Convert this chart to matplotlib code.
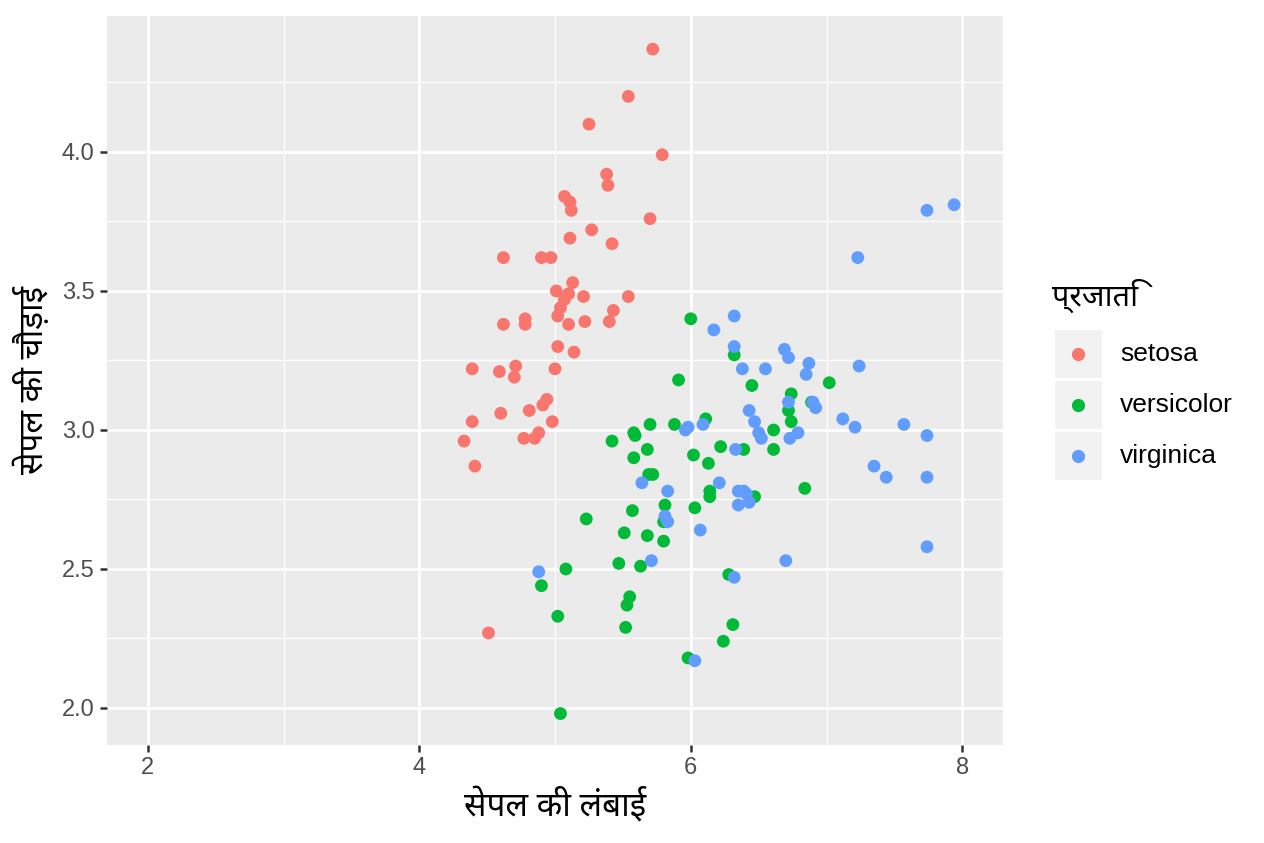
import matplotlib
matplotlib.use('Agg')
import matplotlib.pyplot as plt
from matplotlib.patches import Rectangle
from matplotlib.lines import Line2D
import numpy as np

# iris, jitter के साथ जैसा चित्र में दिखता है
setosa_x = [5.72, 5.54, 5.25, 5.79, 5.38, 5.39, 5.07, 5.11, 5.12, 5.70,
            5.27, 5.11, 5.42, 4.62, 4.90, 4.97, 5.13, 5.01, 5.07, 5.10,
            5.21, 5.54, 5.04, 5.02, 5.10, 5.22, 5.43, 5.40, 4.62, 4.78,
            4.78, 5.02, 5.14, 4.39, 4.59, 4.71, 4.70, 5.00, 4.94, 4.91,
            4.60, 4.81, 4.98, 4.39, 4.77, 4.85, 4.88, 4.33, 4.41, 4.51]
setosa_y = [4.37, 4.20, 4.10, 3.99, 3.92, 3.88, 3.84, 3.82, 3.79, 3.76,
            3.72, 3.69, 3.67, 3.62, 3.62, 3.62, 3.53, 3.50, 3.47, 3.49,
            3.48, 3.48, 3.44, 3.41, 3.38, 3.39, 3.43, 3.39, 3.38, 3.40,
            3.38, 3.30, 3.28, 3.22, 3.21, 3.23, 3.19, 3.22, 3.11, 3.09,
            3.06, 3.07, 3.03, 3.03, 2.97, 2.97, 2.99, 2.96, 2.87, 2.27]

versicolor_x = [6.00, 5.91, 5.42, 5.58, 5.59, 5.70, 5.88, 5.68, 5.58, 6.02,
                5.69, 5.72, 5.81, 6.03, 5.57, 5.23, 5.80, 5.51, 5.68, 5.80,
                5.47, 5.63, 5.08, 4.90, 5.55, 5.53, 5.02, 5.52, 5.98, 5.04,
                6.32, 6.45, 7.02, 6.74, 6.72, 6.74, 6.11, 6.61, 6.22, 6.39,
                6.61, 6.13, 6.84, 6.14, 6.14, 6.47, 6.28, 6.31, 6.24, 6.89]
versicolor_y = [3.40, 3.18, 2.96, 2.99, 2.98, 3.02, 3.02, 2.93, 2.90, 2.91,
                2.84, 2.84, 2.73, 2.72, 2.71, 2.68, 2.67, 2.63, 2.62, 2.60,
                2.52, 2.51, 2.50, 2.44, 2.40, 2.37, 2.33, 2.29, 2.18, 1.98,
                3.27, 3.16, 3.17, 3.13, 3.07, 3.03, 3.04, 3.00, 2.94, 2.93,
                2.93, 2.88, 2.79, 2.78, 2.76, 2.76, 2.48, 2.30, 2.24, 3.10]

virginica_x = [5.96, 5.98, 5.64, 5.83, 5.83, 6.07, 5.71, 4.88, 6.03, 7.94,
               7.74, 7.23, 6.32, 6.17, 6.32, 6.38, 6.55, 6.69, 6.72, 6.87,
               6.85, 7.24, 6.72, 6.90, 6.92, 6.43, 6.47, 6.09, 7.12, 7.21,
               7.57, 6.50, 6.52, 6.73, 6.79, 7.74, 6.33, 7.35, 7.44, 7.74,
               6.21, 6.35, 6.39, 6.35, 6.43, 6.70, 7.74, 6.32, 5.81, 6.41]
virginica_y = [3.00, 3.01, 2.81, 2.78, 2.67, 2.64, 2.53, 2.49, 2.17, 3.81,
               3.79, 3.62, 3.41, 3.36, 3.30, 3.22, 3.22, 3.29, 3.26, 3.24,
               3.20, 3.23, 3.10, 3.10, 3.08, 3.07, 3.03, 3.02, 3.04, 3.01,
               3.02, 2.99, 2.97, 2.97, 2.99, 2.98, 2.93, 2.87, 2.83, 2.83,
               2.81, 2.78, 2.78, 2.73, 2.74, 2.53, 2.58, 2.47, 2.69, 2.77]

species = ['setosa', 'versicolor', 'virginica']
colors = ['#F8766D', '#00BA38', '#619CFF']
xs = [setosa_x, versicolor_x, virginica_x]
ys = [setosa_y, versicolor_y, virginica_y]

x_ticks = [2, 4, 6, 8]
y_ticks = [2.0, 2.5, 3.0, 3.5, 4.0]

hindi = ['Noto Sans Devanagari', 'Lohit Devanagari', 'FreeSans', 'Noto Sans', 'DejaVu Sans']
plt.rcParams['font.family'] = ['Liberation Sans', 'DejaVu Sans']

fig = plt.figure(figsize=(12.64, 8.43), dpi=100)
ax = fig.add_axes([0.0847, 0.1163, 0.7088, 0.8647])
ax.set_facecolor('#EBEBEB')

for x, y, c in zip(xs, ys, colors):
    ax.scatter(x, y, s=85, color=c, edgecolors='none', zorder=3)

ax.set_xlim(1.7, 8.3)
ax.set_ylim(1.867, 4.489)
ax.set_xticks(x_ticks)
ax.set_xticklabels([str(t) for t in x_ticks])
ax.set_yticks(y_ticks)
ax.set_yticklabels(['%.1f' % t for t in y_ticks])
ax.set_xticks([3, 5, 7], minor=True)
ax.set_yticks([2.25, 2.75, 3.25, 3.75, 4.25], minor=True)
ax.grid(which='major', color='white', lw=2.0, zorder=0)
ax.grid(which='minor', color='white', lw=1.0, zorder=0)
ax.set_axisbelow(True)
for s in ax.spines.values():
    s.set_visible(False)
ax.tick_params(which='major', length=5, width=1.8, color='#333333',
               labelsize=17, labelcolor='#4D4D4D', pad=4)
ax.tick_params(which='minor', length=0)

ax.set_xlabel('सेपल की लंबाई', fontsize=24, family=hindi, labelpad=6)
ax.set_ylabel('सेपल की चौड़ाई', fontsize=24, family=hindi, labelpad=8)

# legend, ggplot जैसा
fig.text(1052 / 1264, 1 - 296 / 843, 'प्रजाति', fontsize=22, family=hindi,
         va='center', ha='left')
for i, (name, c) in enumerate(zip(species, colors)):
    top = 330 + i * 51
    fig.add_artist(Rectangle((1055 / 1264, 1 - (top + 48) / 843), 47 / 1264, 48 / 843,
                             transform=fig.transFigure, facecolor='#F2F2F2',
                             edgecolor='none'))
    fig.add_artist(Line2D([1078 / 1264], [1 - (top + 24) / 843], marker='o',
                          markersize=9.5, color=c, markeredgewidth=0,
                          transform=fig.transFigure))
    fig.text(1120 / 1264, 1 - (top + 24) / 843, name, fontsize=19,
             va='center', ha='left', color='black')

fig.savefig('out.png', dpi=100)
